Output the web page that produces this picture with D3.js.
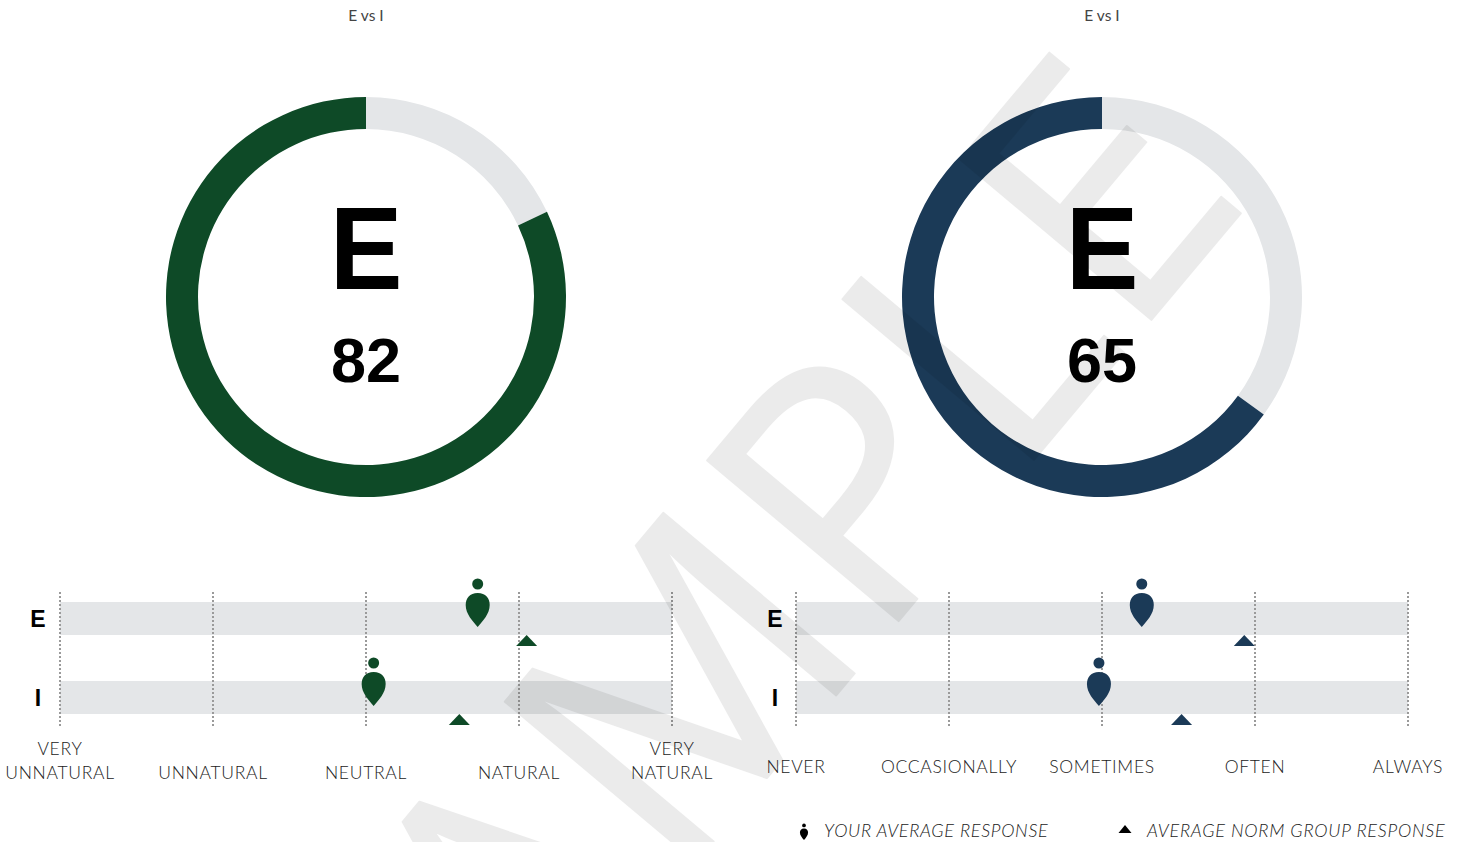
<!DOCTYPE html>
<html><head><meta charset="utf-8">
<script src="https://cdn.jsdelivr.net/npm/d3@7"></script>
<style>html,body{margin:0;padding:0;background:#fff;} svg{display:block;}</style>
</head><body>
<svg id="c" width="1460" height="842"></svg>
<script>
// ---------- data ----------
const chartTitles = ["E vs I", "E vs I"];
const preferenceLetters = ["E", "E"];
const clarityScores = [82, 65];
const rowLabels = ["E", "I"];
const scaleTicks = [1, 2, 3, 4, 5];
const naturalLabels = [["VERY", "UNNATURAL"], ["UNNATURAL"], ["NEUTRAL"], ["NATURAL"], ["VERY", "NATURAL"]];
const frequencyLabels = [["NEVER"], ["OCCASIONALLY"], ["SOMETIMES"], ["OFTEN"], ["ALWAYS"]];
const naturalYour = [3.73, 3.05];
const naturalNorm = [4.05, 3.61];
const frequencyYour = [3.26, 2.98];
const frequencyNorm = [3.93, 3.52];
const legendLabels = ["YOUR AVERAGE RESPONSE", "AVERAGE NORM GROUP RESPONSE"];
const watermarkText = "SAMPLE";

// ---------- styles ----------
const panelColors = ["#0e4a27", "#1b3a57"];
const trackColor = "#e4e6e8";
const labelFont = "Lato, 'Open Sans', sans-serif";
const boldFont = "'Liberation Sans', Arial, sans-serif";

const svg = d3.select("#c");

const panels = [
  { cx: 366, range: [60, 672], labels: naturalLabels, your: naturalYour, norm: naturalNorm, labelX: 38, twoLine: true },
  { cx: 1102, range: [796, 1408], labels: frequencyLabels, your: frequencyYour, norm: frequencyNorm, labelX: 775, twoLine: false }
];

const arc = d3.arc().innerRadius(168).outerRadius(200);
const scoreScale = d3.scaleLinear().domain([0, 100]).range([0, 2 * Math.PI]);
const rowY = d3.scalePoint().domain(rowLabels).range([618.5, 697.5]);

function person(g, x, bottom, color, s) {
  const p = g.append("g").attr("transform", `translate(${x},${bottom}) scale(${s})`).attr("fill", color);
  p.append("path").attr("d", "M0,-34 C8,-34 12,-29 12,-22 C12,-13 5,-6 0,0 C-5,-6 -12,-13 -12,-22 C-12,-29 -8,-34 0,-34 Z");
  p.append("circle").attr("cx", 0).attr("cy", -43).attr("r", 5.5);
}
function tri(g, x, apex, color, hw, h) {
  g.append("path").attr("d", `M${x},${apex} L${x + hw},${apex + h} L${x - hw},${apex + h} Z`).attr("fill", color);
}

panels.forEach((p, i) => {
  const color = panelColors[i];
  // title
  svg.append("text").attr("x", p.cx).attr("y", 21).attr("text-anchor", "middle")
    .attr("font-family", labelFont).attr("font-size", 15.5).attr("fill", "#444").text(chartTitles[i]);
  // donut
  const g = svg.append("g").attr("transform", `translate(${p.cx},297)`);
  const split = scoreScale(100 - clarityScores[i]);
  g.append("path").attr("d", arc({ startAngle: 0, endAngle: split })).attr("fill", trackColor);
  g.append("path").attr("d", arc({ startAngle: split, endAngle: 2 * Math.PI })).attr("fill", color);
  g.append("text").attr("x", 0).attr("y", -8).attr("text-anchor", "middle")
    .attr("font-family", boldFont).attr("font-weight", "bold").attr("font-size", 116).attr("fill", "#000")
    .attr("transform", "scale(0.94,1)")
    .text(preferenceLetters[i]);
  g.append("text").attr("x", 0).attr("y", 85).attr("text-anchor", "middle")
    .attr("font-family", boldFont).attr("font-weight", "bold").attr("font-size", 63).attr("fill", "#000")
    .text(clarityScores[i]);

  // scale chart
  const x = d3.scaleLinear().domain([1, 5]).range(p.range);
  const s = svg.append("g");
  rowLabels.forEach(r => {
    s.append("rect").attr("x", x(1)).attr("width", x(5) - x(1)).attr("y", rowY(r) - 16.5).attr("height", 33).attr("fill", trackColor);
    s.append("text").attr("x", p.labelX).attr("y", rowY(r) + 8.5).attr("text-anchor", "middle")
      .attr("font-family", boldFont).attr("font-weight", "bold").attr("font-size", 23).attr("fill", "#000").text(r);
  });
  scaleTicks.forEach((t, k) => {
    s.append("line").attr("x1", x(t)).attr("x2", x(t)).attr("y1", 592).attr("y2", 728)
      .attr("stroke", "#9a9a9a").attr("stroke-width", 2).attr("stroke-dasharray", "2,2");
    const lines = p.labels[k];
    const tx = s.append("text").attr("text-anchor", "middle").attr("font-family", labelFont).attr("font-weight", 300)
      .attr("font-size", 17.5).attr("letter-spacing", 0.7).attr("fill", "#222");
    if (p.twoLine) {
      lines.forEach((ln, j) => {
        tx.append("tspan").attr("x", x(t)).attr("y", 779 - (lines.length - 1 - j) * 24).text(ln);
      });
    } else {
      tx.append("tspan").attr("x", x(t)).attr("y", 773).text(lines[0]);
    }
  });
  rowLabels.forEach((r, j) => {
    person(s, x(p.your[j]), rowY(r) + 8.5, color, 1);
    tri(s, x(p.norm[j]), rowY(r) + 16.5, color, 10.5, 11);
  });
});

// legend
const lg = svg.append("g");
person(lg, 804, 840, "#000", 0.34);
lg.append("text").attr("x", 824).attr("y", 837).attr("font-family", labelFont).attr("font-style", "italic").attr("font-weight", 300)
  .attr("font-size", 18).attr("letter-spacing", 0.68).attr("fill", "#222").text(legendLabels[0]);
tri(lg, 1125, 825, "#000", 6.5, 8);
lg.append("text").attr("x", 1147).attr("y", 837).attr("font-family", labelFont).attr("font-style", "italic").attr("font-weight", 300)
  .attr("font-size", 18).attr("letter-spacing", 0.74).attr("fill", "#222").text(legendLabels[1]);

// watermark
svg.append("g").attr("opacity", 0.075)
  .append("text").attr("transform", "translate(735,620) rotate(-50)").attr("text-anchor", "middle").attr("dy", "0.36em")
  .attr("font-family", "'Open Sans', sans-serif").attr("font-size", 350).attr("fill", "#000")
  .attr("stroke", "#000").attr("stroke-width", 2).attr("stroke-linejoin", "round")
  .text(watermarkText);
</script>
</body></html>
